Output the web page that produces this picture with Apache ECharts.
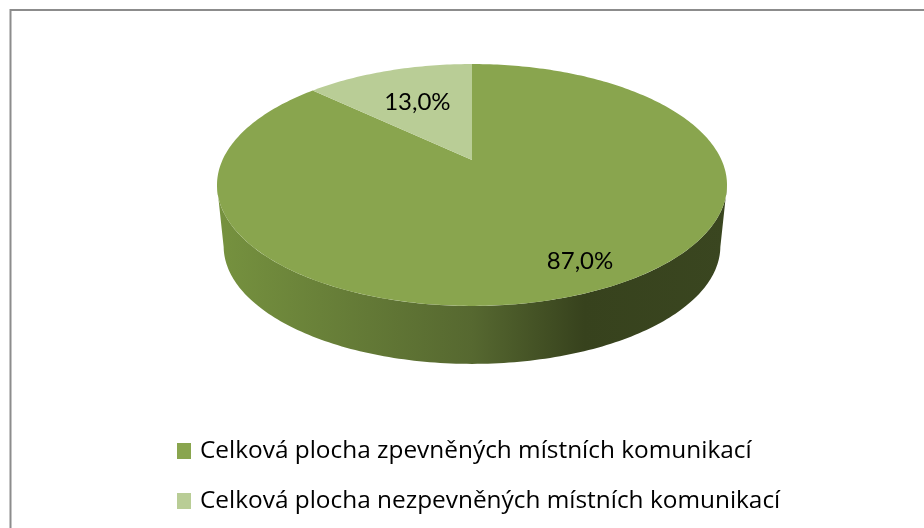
<!DOCTYPE html>
<html>
<head>
<meta charset="utf-8">
<script src="https://cdn.jsdelivr.net/npm/echarts@6/dist/echarts.min.js"></script>
<style>
html, body { margin: 0; padding: 0; background: #fff; }
#chart { width: 924px; height: 528px; }
</style>
</head>
<body>
<div id="chart"></div>
<script>
/* podíl zpevněných a nezpevněných místních komunikací */
const categories = [
    'Celková plocha zpevněných místních komunikací',
    'Celková plocha nezpevněných místních komunikací'
];
const shares = [87.0, 13.0];
const shareLabels = ['87,0%', '13,0%'];
const sliceColors = ['#89a54e', '#b9cd96'];

// perspektiva koláče
const tilt = 0.2066;
const baseScale = 0.975;
const baseDrop = 0.54;
const frontFrom = 102, frontTo = 258;
// [úhel, poloměr] popisků
const labelSpots = [[153.6, 0.825], [336.4, 0.61]];

function project(deg, r) {
    let a = deg * Math.PI / 180;
    let u = Math.sin(a) * r, v = Math.cos(a) * r;
    let d = 1 + tilt * v;
    return [u / d, v / d];
}

function sliceRange(index) {
    let start = 0;
    for (let i = 0; i < index; i++) start += shares[i];
    return [start * 3.6, (start + shares[index]) * 3.6];
}

function arcPoints(api, from, to, r, drop) {
    let pts = [];
    let steps = Math.ceil(Math.abs(to - from));
    for (let i = 0; i <= steps; i++) {
        let p = project(from + (to - from) * i / steps, r);
        pts.push(api.coord([p[0], p[1] - drop]));
    }
    return pts;
}

function renderSlice(index) {
    return function (params, api) {
        let range = sliceRange(index);
        let children = [];
        let wallFrom = Math.max(range[0], frontFrom);
        let wallTo = Math.min(range[1], frontTo);
        if (wallTo > wallFrom) {
            let wall = arcPoints(api, wallFrom, wallTo, 1, 0)
                .concat(arcPoints(api, wallTo, wallFrom, baseScale, baseDrop));
            children.push({
                type: 'polygon',
                shape: { points: wall },
                style: {
                    fill: {
                        type: 'linear', x: 0, y: 0, x2: 1, y2: 0,
                        colorStops: [
                            { offset: 0, color: '#76923f' },
                            { offset: 0.5, color: '#566830' },
                            { offset: 0.72, color: '#37421d' },
                            { offset: 1, color: '#3a4620' }
                        ]
                    }
                }
            });
        }
        let top = [api.coord([0, 0])].concat(arcPoints(api, range[0], range[1], 1, 0));
        children.push({
            type: 'polygon',
            shape: { points: top },
            style: { fill: sliceColors[index] }
        });
        let spot = project(labelSpots[index][0], labelSpots[index][1]);
        let c = api.coord(spot);
        children.push({
            type: 'text',
            x: c[0],
            y: c[1],
            z2: 10,
            style: {
                text: shareLabels[index],
                fill: '#000',
                font: '24px Lato',
                align: 'center',
                verticalAlign: 'middle'
            }
        });
        return { type: 'group', children: children };
    };
}

let series = categories.map(function (name, i) {
    return {
        type: 'custom',
        name: name,
        coordinateSystem: 'cartesian2d',
        clip: false,
        silent: true,
        itemStyle: { color: sliceColors[i] },
        data: [[0, 0, shares[i]]],
        renderItem: renderSlice(i)
    };
});

let option = {
    animation: false,
    backgroundColor: '#fff',
    grid: { left: 172.6, top: 44.2, width: 598.8, height: 324.2 },
    xAxis: { type: 'value', min: -1.2, max: 1.2, show: false },
    yAxis: { type: 'value', min: -1.8, max: 1, show: false },
    legend: {
        orient: 'vertical',
        left: 172,
        top: 434,
        icon: 'rect',
        itemWidth: 14,
        itemHeight: 16,
        itemGap: 26,
        selectedMode: false,
        data: categories,
        textStyle: {
            color: '#000',
            fontFamily: 'Open Sans',
            fontSize: 24.4,
            padding: [0, 0, 0, 4],
            height: 20,
            lineHeight: 20
        }
    },
    graphic: [
        { type: 'line', shape: { x1: 10.5, y1: 9, x2: 10.5, y2: 528 }, style: { stroke: '#8c8c8c', lineWidth: 2 } },
        { type: 'line', shape: { x1: 10, y1: 10, x2: 924, y2: 10 }, style: { stroke: '#8c8c8c', lineWidth: 2 } }
    ],
    series: series
};

let chart = echarts.init(document.getElementById('chart'));
chart.setOption(option);
</script>
</body>
</html>
